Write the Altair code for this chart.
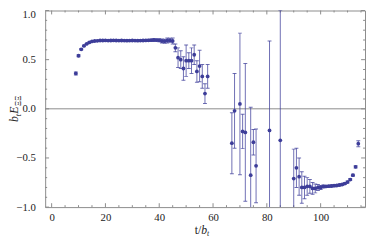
import altair as alt
import pandas as pd

# ---- data ----
t_vals = [9, 10, 11, 12, 13, 14, 15, 16, 17, 18,
          19, 20, 21, 22, 23, 24, 25, 26, 27, 28,
          29, 30, 31, 32, 33, 34, 35, 36, 37, 38,
          39, 40, 41, 42, 43, 44, 45, 46, 47, 48,
          49, 50, 51, 52, 53, 54, 55, 56, 57, 58,
          67, 68, 70, 71, 72, 74, 75, 76, 81, 85,
          90, 91, 92, 93, 94, 95, 96, 97, 98, 99,
          100, 101, 102, 103, 104, 105, 106, 107, 108, 109,
          110, 111, 112, 113, 114]
y_vals = [0.36, 0.54, 0.605, 0.64, 0.66, 0.675, 0.685, 0.69, 0.692, 0.695,
          0.695, 0.696, 0.694, 0.695, 0.696, 0.695, 0.694, 0.695, 0.694, 0.693,
          0.694, 0.695, 0.694, 0.693, 0.694, 0.695, 0.696, 0.697, 0.698, 0.700,
          0.699, 0.697, 0.690, 0.688, 0.695, 0.697, 0.690, 0.62, 0.52, 0.50,
          0.41, 0.49, 0.49, 0.49, 0.55, 0.38, 0.435, 0.33, 0.155, 0.33,
          -0.35, -0.02, 0.05, -0.23, -0.24, -0.675, -0.34, -0.58, -0.22, -0.32,
          -0.71, -0.60, -0.69, -0.80, -0.80, -0.79, -0.79, -0.81, -0.81, -0.80,
          -0.80, -0.79, -0.79, -0.787, -0.785, -0.782, -0.78, -0.775, -0.77, -0.76,
          -0.745, -0.72, -0.675, -0.59, -0.355]
e_vals = [0.015, 0.01, 0.008, 0.006, 0.005, 0.005, 0.005, 0.005, 0.005, 0.005,
          0.005, 0.005, 0.005, 0.005, 0.005, 0.005, 0.005, 0.005, 0.006, 0.006,
          0.006, 0.006, 0.007, 0.007, 0.008, 0.008, 0.009, 0.01, 0.01, 0.012,
          0.012, 0.015, 0.02, 0.02, 0.025, 0.02, 0.03, 0.04, 0.10, 0.09,
          0.12, 0.16, 0.08, 0.13, 0.10, 0.11, 0.16, 0.12, 0.10, 0.12,
          0.31, 0.38, 0.72, 0.175, 0.70, 0.69, 0.13, 0.375, 0.91, 1.32,
          0.30, 0.20, 0.19, 0.16, 0.115, 0.09, 0.07, 0.06, 0.045, 0.03,
          0.02, 0.015, 0.01, 0.01, 0.01, 0.01, 0.01, 0.01, 0.01, 0.01,
          0.01, 0.01, 0.01, 0.012, 0.03]

x_major = [0, 20, 40, 60, 80, 100]
x_minor = [5, 10, 15, 25, 30, 35, 45, 50, 55, 65, 70, 75, 85, 90, 95, 105, 110, 115]
y_major = [-1.0, -0.5, 0.0, 0.5, 1.0]
y_minor = [-0.9, -0.8, -0.7, -0.6, -0.4, -0.3, -0.2, -0.1,
           0.1, 0.2, 0.3, 0.4, 0.6, 0.7, 0.8, 0.9]

df = pd.DataFrame({"t": t_vals, "v": y_vals, "e": e_vals})
df["lo"] = df["v"] - df["e"]
df["hi"] = df["v"] + df["e"]

W, H = 327, 201
C = "#3d3d99"
FRAME = "#8a8a8a"
SERIF = "Liberation Serif"

xs = alt.Scale(domain=[-2.4, 116.5], nice=False, zero=False)
ys = alt.Scale(domain=[-1.0, 1.0], nice=False, zero=False)

base = alt.Chart(df)

# invisible carrier layer for the axes (first layer)
axes_layer = base.mark_point(opacity=0, size=1).encode(
    x=alt.X("t:Q", scale=xs,
            axis=alt.Axis(values=x_major, title=None, ticks=False, domain=False,
                          grid=False, labelPadding=5, labelFont=SERIF,
                          labelFontSize=11, labelColor="#222", format="d")),
    y=alt.Y("v:Q", scale=ys,
            axis=alt.Axis(values=y_major, title=None, ticks=False, domain=False,
                          grid=False, labelPadding=10, labelFont=SERIF,
                          labelFontSize=11, labelColor="#222", format=".1f",
                          labelOffset={"condition": {"test": "datum.value >= 1", "value": 4},
                                       "value": 0})),
)

points = base.mark_circle(size=15, color=C, opacity=1, clip=True).encode(
    x=alt.X("t:Q", scale=xs, axis=None),
    y=alt.Y("v:Q", scale=ys, axis=None),
)

bars = base.mark_rule(color=C, strokeWidth=1, opacity=0.75, clip=True).encode(
    x=alt.X("t:Q", scale=xs, axis=None),
    y=alt.Y("lo:Q", scale=ys, axis=None),
    y2="hi:Q",
)
cap_lo = base.mark_tick(color=C, orient="horizontal", size=4, thickness=1,
                        opacity=0.75, clip=True).encode(
    x=alt.X("t:Q", scale=xs, axis=None),
    y=alt.Y("lo:Q", scale=ys, axis=None),
)
cap_hi = base.mark_tick(color=C, orient="horizontal", size=4, thickness=1,
                        opacity=0.75, clip=True).encode(
    x=alt.X("t:Q", scale=xs, axis=None),
    y=alt.Y("hi:Q", scale=ys, axis=None),
)

zero = alt.Chart(pd.DataFrame({"z": [0.0]})).mark_rule(color=FRAME, strokeWidth=1).encode(
    y=alt.Y("z:Q", scale=ys, axis=None)
)


def xticks(vals, length):
    d = alt.Chart(pd.DataFrame({"p": vals}))
    bot = d.mark_rule(color=FRAME, strokeWidth=1).encode(
        x=alt.X("p:Q", scale=xs, axis=None), y=alt.value(H), y2=alt.value(H - length))
    top = d.mark_rule(color=FRAME, strokeWidth=1).encode(
        x=alt.X("p:Q", scale=xs, axis=None), y=alt.value(0), y2=alt.value(length))
    return [bot, top]


def yticks(vals, length):
    d = alt.Chart(pd.DataFrame({"p": vals}))
    lft = d.mark_rule(color=FRAME, strokeWidth=1).encode(
        y=alt.Y("p:Q", scale=ys, axis=None), x=alt.value(0), x2=alt.value(length))
    rgt = d.mark_rule(color=FRAME, strokeWidth=1).encode(
        y=alt.Y("p:Q", scale=ys, axis=None), x=alt.value(W), x2=alt.value(W - length))
    return [lft, rgt]


one = alt.Chart(pd.DataFrame({"k": [0]}))


def txt(s, x, y, size, angle=0, italic=True, align="left"):
    return one.mark_text(text=s, font=SERIF, fontSize=size, angle=angle,
                         fontStyle="italic" if italic else "normal",
                         align=align, baseline="alphabetic", color="#222").encode(
        x=alt.value(x), y=alt.value(y))


# y-axis title: b_t E_ΞΞ (rotated)
ytitle = [
    txt("b", -28, 114, 12, angle=270),
    txt("t", -25, 108, 8, angle=270),
    txt("E", -28, 105.5, 12, angle=270),
    txt("ΞΞ", -25, 97.5, 8, angle=270, italic=False),
]
# x-axis title: t/b_t
xtitle = [
    txt("t/", 153, 228, 12, italic=False),
    txt("b", 159.5, 228, 12),
    txt("t", 165.5, 230.5, 8),
]

layers = ([axes_layer, zero] + xticks(x_major, 4) + xticks(x_minor, 2) + yticks(y_major, 4)
          + yticks(y_minor, 2) + [bars, cap_lo, cap_hi, points] + ytitle + xtitle)

chart = alt.layer(*layers).resolve_axis(
    x="independent", y="independent"
).properties(
    width=W, height=H,
    padding={"left": 38, "top": 0, "right": 1, "bottom": 29},
    autosize=alt.AutoSizeParams(type="none"),
    background="white",
).configure_view(stroke=FRAME, strokeWidth=1)

chart.save("out.html", embed_options={"renderer": "svg", "actions": False})
